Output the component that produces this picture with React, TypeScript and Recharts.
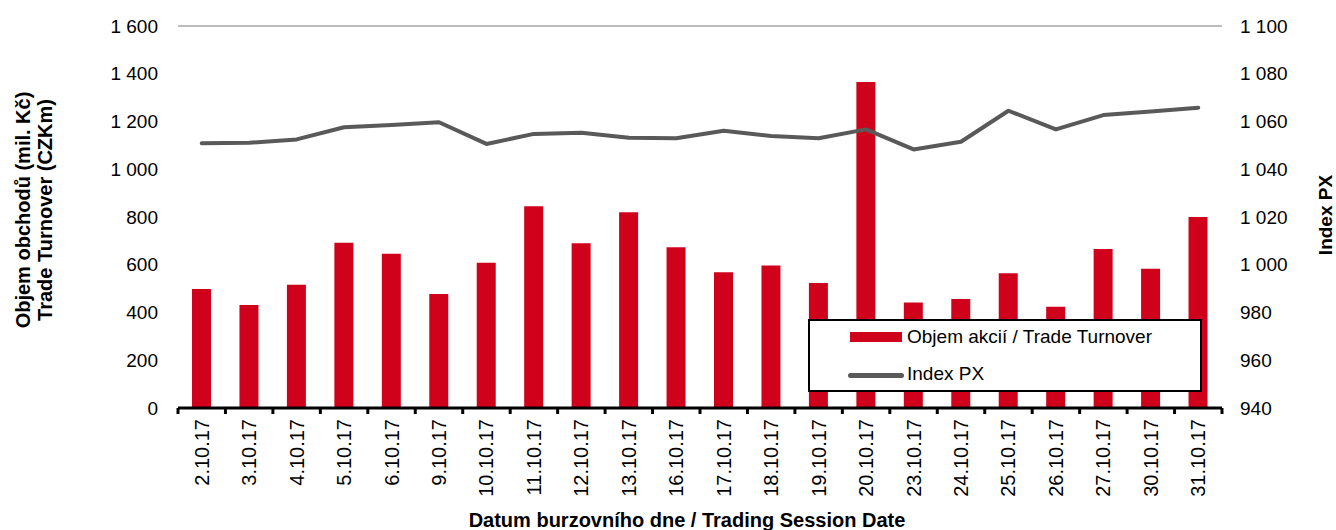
import React from 'react';
import { ComposedChart, Bar, Line, XAxis, YAxis, CartesianGrid, Legend } from 'recharts';

const dates = [
  '2.10.17', '3.10.17', '4.10.17', '5.10.17', '6.10.17', '9.10.17', '10.10.17', '11.10.17',
  '12.10.17', '13.10.17', '16.10.17', '17.10.17', '18.10.17', '19.10.17', '20.10.17', '23.10.17',
  '24.10.17', '25.10.17', '26.10.17', '27.10.17', '30.10.17', '31.10.17',
];
const turnover = [498, 431, 516, 692, 646, 478, 608, 845, 690, 820, 673, 569, 597, 524, 1365, 442, 457, 564, 424, 666, 583, 800];
const indexPx = [
  1050.9, 1051.1, 1052.5, 1057.6, 1058.5, 1059.7, 1050.6, 1054.8, 1055.3, 1053.2, 1053.0, 1056.1,
  1053.9, 1053.0, 1056.7, 1048.3, 1051.5, 1064.5, 1056.7, 1062.7, 1064.2, 1065.8,
];
const leftTicks = [0, 200, 400, 600, 800, 1000, 1200, 1400, 1600];
const rightTicks = [940, 960, 980, 1000, 1020, 1040, 1060, 1080, 1100];

const data = dates.map((d, i) => ({ date: d, turnover: turnover[i], px: indexPx[i] }));

const FONT = '"Liberation Sans", Arial, sans-serif';
const RED = '#d0021b';
const GREY = '#595959';

const PLOT_W = 1044;
const BAND = PLOT_W / dates.length;
const legendOrder = ['turnover', 'px'];

const fmt = (v: number) =>
  v >= 1000 ? `${Math.floor(v / 1000)} ${String(v % 1000).padStart(3, '0')}` : String(v);

function DateTick(props: any) {
  const { x, y, payload, index } = props;
  return (
    <g>
      <line x1={x - BAND / 2} x2={x - BAND / 2} y1={y} y2={y + 6} stroke="#000" strokeWidth={3} />
      {index === dates.length - 1 && (
        <line x1={x + BAND / 2} x2={x + BAND / 2} y1={y} y2={y + 6} stroke="#000" strokeWidth={3} />
      )}
      <text
        x={x}
        y={y + 11}
        transform={`rotate(-90, ${x}, ${y + 11})`}
        textAnchor="end"
        dy="0.35em"
        fontSize={20}
        fontFamily={FONT}
        fill="#000"
      >
        {payload.value}
      </text>
    </g>
  );
}

function LegendBox(props: any) {
  const items = [...(props.payload || [])].sort(
    (a: any, b: any) => legendOrder.indexOf(a.dataKey) - legendOrder.indexOf(b.dataKey)
  );
  return (
    <div
      style={{
        boxSizing: 'border-box',
        width: 394,
        height: 73,
        border: '2px solid #000',
        background: '#fff',
        position: 'relative',
        fontFamily: FONT,
        fontSize: 19,
        color: '#000',
      }}
    >
      {items.map((entry: any, i: number) => {
        const top = i === 0 ? 18 : 55;
        const isBar = entry.dataKey === 'turnover';
        return (
          <div key={i}>
            {isBar ? (
              <div style={{ position: 'absolute', left: 40, top: top - 7, width: 52, height: 10, background: RED }} />
            ) : (
              <div
                style={{ position: 'absolute', left: 38, top: top - 3, width: 56, height: 5, borderRadius: 3, background: GREY }}
              />
            )}
            <div style={{ position: 'absolute', left: 97, top: top - 13, lineHeight: '22px', whiteSpace: 'nowrap' }}>
              {entry.value}
            </div>
          </div>
        );
      })}
    </div>
  );
}

export default function App() {
  return (
    <div style={{ position: 'absolute', left: 0, top: 0, width: 1336, height: 530, background: '#fff' }}>
      <ComposedChart width={1336} height={530} data={data} margin={{ top: 26, right: 34, left: 78, bottom: 22 }}>
        <CartesianGrid vertical={false} stroke="#bdbdbd" strokeWidth={2} />
        <XAxis
          dataKey="date"
          height={100}
          interval={0}
          tickSize={0}
          tickMargin={0}
          tickLine={false}
          axisLine={{ stroke: '#000', strokeWidth: 3 }}
          tick={<DateTick />}
          label={{
            content: () => (
              <text x={687} y={520} textAnchor="middle" dominantBaseline="central" fontSize={20} fontWeight="bold" fontFamily={FONT} fill="#000">
                Datum burzovního dne / Trading Session Date
              </text>
            ),
          }}
        />
        <YAxis
          yAxisId="left"
          width={100}
          domain={[0, 1600]}
          ticks={leftTicks}
          tickFormatter={fmt}
          axisLine={false}
          tickLine={false}
          tickSize={6}
          tickMargin={14}
          tick={{ fontSize: 19, fill: '#000', fontFamily: FONT }}
          label={{
            content: () => (
              <text transform="rotate(-90, 34, 210)" x={34} y={210} textAnchor="middle" fontSize={20} fontWeight="bold" fontFamily={FONT} fill="#000">
                <tspan x={34} dy="-0.2em">Objem obchodů (mil. Kč)</tspan>
                <tspan x={34} dy="1.1em">Trade Turnover (CZKm)</tspan>
              </text>
            ),
          }}
        />
        <YAxis
          yAxisId="right"
          orientation="right"
          width={80}
          domain={[940, 1100]}
          ticks={rightTicks}
          tickFormatter={fmt}
          axisLine={false}
          tickLine={false}
          tickSize={6}
          tickMargin={12}
          tick={{ fontSize: 19, fill: '#000', fontFamily: FONT }}
          label={{
            content: () => (
              <text transform="rotate(-90, 1325, 215)" x={1325} y={215} textAnchor="middle" dominantBaseline="central" fontSize={19} fontWeight="bold" fontFamily={FONT} fill="#000">
                Index PX
              </text>
            ),
          }}
        />
        <Bar yAxisId="left" dataKey="turnover" name="Objem akcií / Trade Turnover" fill={RED} barSize={19} isAnimationActive={false} />
        <Line
          yAxisId="right"
          dataKey="px"
          name="Index PX"
          type="linear"
          stroke={GREY}
          strokeWidth={4}
          strokeLinecap="round"
          strokeLinejoin="round"
          dot={false}
          activeDot={false}
          isAnimationActive={false}
        />
        <Legend
          layout="horizontal"
          verticalAlign="middle"
          align="center"
          width={394}
          height={73}
          wrapperStyle={{ left: 808, top: 319, width: 394, height: 73 }}
          content={<LegendBox />}
        />
      </ComposedChart>
    </div>
  );
}
